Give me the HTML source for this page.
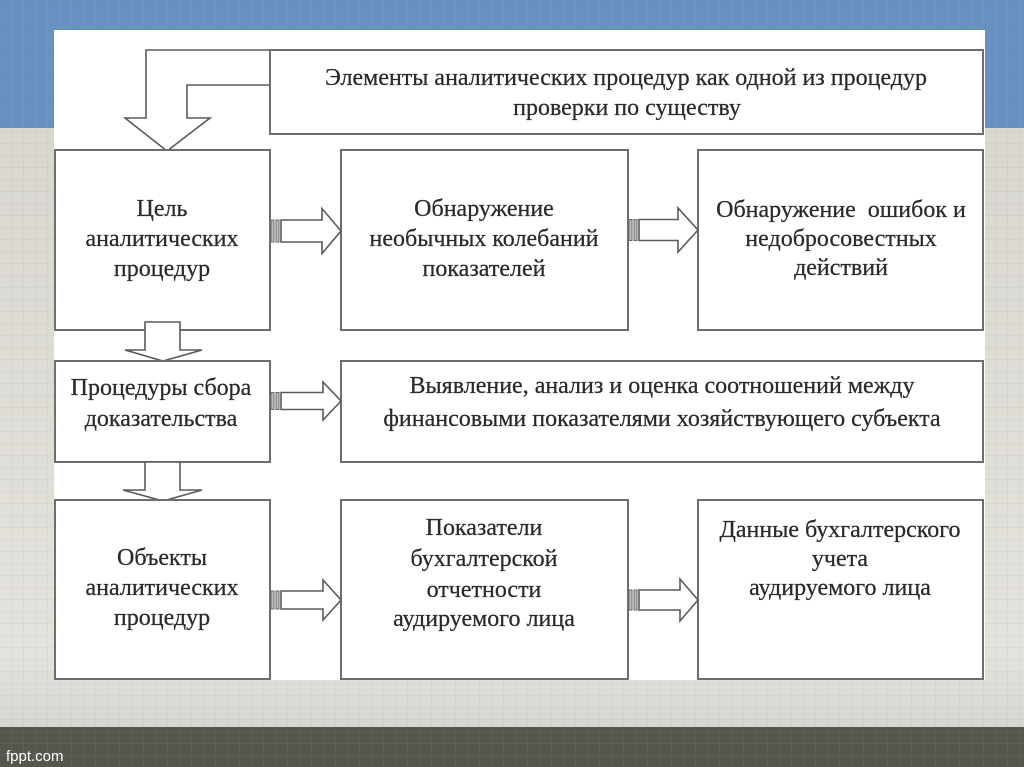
<!DOCTYPE html>
<html>
<head>
<meta charset="utf-8">
<style>
html,body{margin:0;padding:0;width:1024px;height:767px;overflow:hidden;background:#dcdad3;}
svg{display:block;}
.t{font-family:"Liberation Serif","DejaVu Serif",serif;font-size:24px;fill:#2a2a2a;text-anchor:middle;stroke:#2a2a2a;stroke-width:0.25;}
.b{fill:#fff;stroke:#6e6e6e;stroke-width:2;}
.a{fill:#fff;stroke:#5a5a5a;stroke-width:1.6;stroke-linejoin:miter;}
.s{fill:#bdbdbd;stroke:#6a6a6a;stroke-width:1;}
</style>
</head>
<body>
<svg width="1024" height="767" viewBox="0 0 1024 767" xmlns="http://www.w3.org/2000/svg">
<defs>
<pattern id="g" width="12" height="12" patternUnits="userSpaceOnUse">
<path d="M12 0V12M0 12H12" fill="none" stroke="rgba(0,0,0,0.07)" stroke-width="1"/>
</pattern>
<pattern id="gb" width="12" height="12" patternUnits="userSpaceOnUse">
<path d="M12 0V12M0 12H12" fill="none" stroke="rgba(255,255,255,0.09)" stroke-width="1"/>
</pattern>
<linearGradient id="lg" x1="0" y1="0" x2="0" y2="1">
<stop offset="0" stop-color="#d6d4cd"/>
<stop offset="0.85" stop-color="#e4e2dc"/>
<stop offset="1" stop-color="#d2d0ca"/>
</linearGradient>
</defs>
<!-- backgrounds -->
<rect x="0" y="0" width="1024" height="767" fill="url(#lg)"/>
<rect x="0" y="0" width="1024" height="767" fill="url(#g)"/>
<rect x="0" y="0" width="1024" height="128" fill="#6891bf"/>
<rect x="0" y="0" width="1024" height="128" fill="url(#gb)"/>
<rect x="0" y="727" width="1024" height="40" fill="#56564f"/>
<rect x="0" y="727" width="1024" height="40" fill="url(#gb)"/>
<text x="6" y="761" font-family="Liberation Sans, DejaVu Sans, sans-serif" font-size="15" fill="#ffffff">fppt.com</text>

<!-- white panel -->
<rect x="54" y="30" width="931" height="650" fill="#ffffff"/>

<!-- top bent arrow -->
<polygon class="a" points="146,118 146,50 270,50 270,85 187,85 187,118 210,118 167,151 125,118"/>

<!-- title box -->
<rect class="b" x="270" y="50" width="713" height="84"/>
<text class="t" x="626" y="85">Элементы аналитических процедур как одной из процедур</text>
<text class="t" x="627" y="115">проверки по существу</text>

<!-- row 1 -->
<rect class="b" x="55" y="150" width="215" height="180"/>
<rect class="b" x="341" y="150" width="287" height="180"/>
<rect class="b" x="698" y="150" width="285" height="180"/>
<text class="t" x="162" y="216">Цель</text>
<text class="t" x="162" y="246">аналитических</text>
<text class="t" x="162" y="276">процедур</text>
<text class="t" x="484" y="216">Обнаружение</text>
<text class="t" x="484" y="246">необычных колебаний</text>
<text class="t" x="484" y="276">показателей</text>
<text class="t" x="841" y="217" xml:space="preserve">Обнаружение  ошибок и</text>
<text class="t" x="841" y="246">недобросовестных</text>
<text class="t" x="841" y="275">действий</text>

<!-- down arrow 1 -->
<polygon class="a" points="145,322 180,322 180,350 202,350 163,361 125,350 145,350"/>

<!-- row 2 -->
<rect class="b" x="55" y="361" width="215" height="101"/>
<rect class="b" x="341" y="361" width="642" height="101"/>
<text class="t" x="161" y="395">Процедуры сбора</text>
<text class="t" x="161" y="426">доказательства</text>
<text class="t" x="662" y="393">Выявление, анализ и оценка соотношений между</text>
<text class="t" x="662" y="426">финансовыми показателями хозяйствующего субъекта</text>

<!-- down arrow 2 -->
<polygon class="a" points="145,462 180,462 180,490 202,490 163,501 123,490 145,490"/>

<!-- row 3 -->
<rect class="b" x="55" y="500" width="215" height="179"/>
<rect class="b" x="341" y="500" width="287" height="179"/>
<rect class="b" x="698" y="500" width="285" height="179"/>
<text class="t" x="162" y="565">Объекты</text>
<text class="t" x="162" y="595">аналитических</text>
<text class="t" x="162" y="625">процедур</text>
<text class="t" x="484" y="535">Показатели</text>
<text class="t" x="484" y="566">бухгалтерской</text>
<text class="t" x="484" y="597">отчетности</text>
<text class="t" x="484" y="626">аудируемого лица</text>
<text class="t" x="840" y="537">Данные бухгалтерского</text>
<text class="t" x="840" y="566">учета</text>
<text class="t" x="840" y="595">аудируемого лица</text>

<!-- striped right arrows -->
<!-- R1a -->
<rect class="s" x="271" y="220" width="3" height="22"/>
<rect class="s" x="276" y="220" width="3" height="22"/>
<polygon class="a" points="281,220 322,220 322,208.5 341,231 322,253.5 322,242 281,242"/>
<!-- R1b -->
<rect class="s" x="629" y="219.5" width="3" height="21"/>
<rect class="s" x="634" y="219.5" width="3" height="21"/>
<polygon class="a" points="639,219.5 678,219.5 678,208 698,230 678,252 678,240.5 639,240.5"/>
<!-- R2 -->
<rect class="s" x="271" y="392.5" width="3" height="17"/>
<rect class="s" x="276" y="392.5" width="3" height="17"/>
<polygon class="a" points="281,392.5 323,392.5 323,382 341,401 323,420 323,409.5 281,409.5"/>
<!-- R3a -->
<rect class="s" x="271" y="591" width="3" height="18"/>
<rect class="s" x="276" y="591" width="3" height="18"/>
<polygon class="a" points="281,591 323,591 323,580 341,600 323,620 323,609 281,609"/>
<!-- R3b -->
<rect class="s" x="629" y="590" width="3" height="20"/>
<rect class="s" x="634" y="590" width="3" height="20"/>
<polygon class="a" points="639,590 680,590 680,579 698,600 680,621 680,610 639,610"/>
</svg>
</body>
</html>
